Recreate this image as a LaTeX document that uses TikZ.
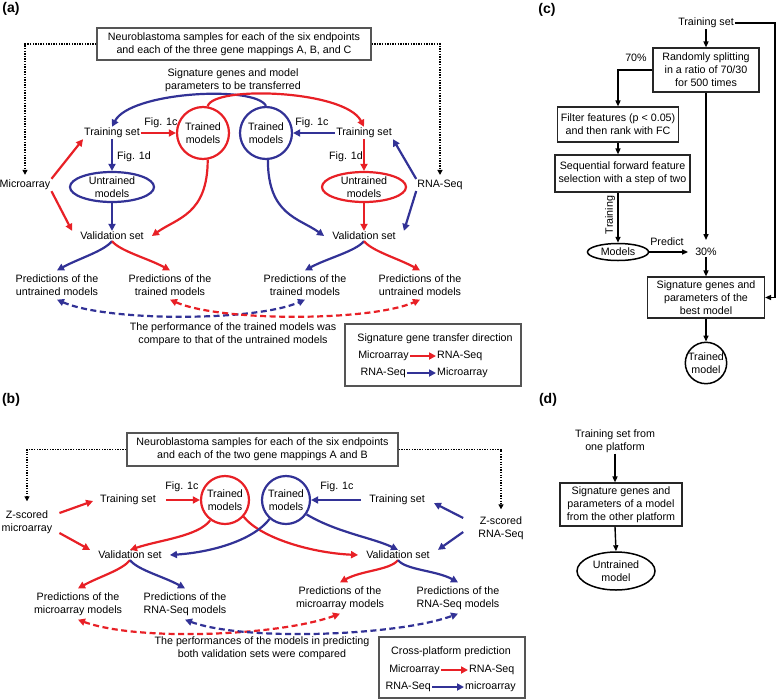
\documentclass[tikz,border=0pt]{standalone}
\usepackage{fontspec}
\setmainfont{Liberation Sans}
\usetikzlibrary{arrows.meta}
\usetikzlibrary{shapes.geometric}

\definecolor{myred}{RGB}{232,32,38}
\definecolor{myblue}{RGB}{50,50,150}
\definecolor{boxgray}{RGB}{85,85,85}

\tikzset{
  txt/.style={align=center, inner sep=1pt, font=\fontsize{10.7}{13}\selectfont},
  pred/.style={txt, inner sep=4pt},
  valset/.style={txt, inner xsep=8pt},
  paneltag/.style={inner sep=0pt, font=\fontsize{14}{16}\selectfont\bfseries},
  srcbox/.style={txt, draw=boxgray, line width=1.3pt, inner sep=0pt},
  legbox/.style={draw=boxgray, line width=1.3pt, inner sep=0pt},
  flowbox/.style={txt, draw=black!85, line width=1.1pt, inner sep=0pt},
  redcirc/.style={txt, circle, draw=myred, line width=2.2pt, inner sep=0pt},
  bluecirc/.style={txt, circle, draw=myblue, line width=2.2pt, inner sep=0pt},
  redell/.style={txt, ellipse, draw=myred, line width=2.2pt, inner sep=0pt},
  blueell/.style={txt, ellipse, draw=myblue, line width=2.2pt, inner sep=0pt},
  blackell/.style={txt, ellipse, draw=black, line width=1.5pt, inner sep=0pt},
  blackcirc/.style={txt, circle, draw=black, line width=1.5pt, inner sep=0pt},
  redarr/.style={myred, line width=2.2pt, ->},
  bluearr/.style={myblue, line width=2.2pt, ->},
  reddash/.style={myred, line width=2.2pt, dash pattern=on 6pt off 3.5pt, <->},
  bluedash/.style={myblue, line width=2.2pt, dash pattern=on 6pt off 3.5pt, <->},
  dotarr/.style={line width=1.8pt, dash pattern=on 1.3pt off 1.3pt, -{Triangle[length=5pt,width=5pt]}},
  flowarr/.style={line width=1.4pt, -{Triangle[length=6pt,width=5pt]}},
}

\begin{document}
\begin{tikzpicture}[x=1pt, y=-1pt, >={Triangle[length=7pt,width=7pt]}]
\useasboundingbox (0,0) rectangle (779,699);

% (a)
\node[paneltag] (tagA) at (11,9) {(a)};
\node[srcbox, minimum width=274pt, minimum height=32pt] (srcA) at (234,44) {Neuroblastoma samples for each of the six endpoints\\and each of the three gene mappings A, B, and C};
\node[txt] (arrayA) at (25,185) {Microarray};
\node[txt] (seqA) at (440,185) {RNA-Seq};
\node[txt] (sigA) at (233,80) {Signature genes and model\\parameters to be transferred};
\node[txt] (trainA1) at (112,133) {Training set};
\node[txt] (trainA2) at (364,133) {Training set};
\node[redcirc, minimum size=52pt] (trainedA1) at (203,133) {Trained\\models};
\node[bluecirc, minimum size=52pt] (trainedA2) at (266,133) {Trained\\models};
\node[blueell, minimum width=84pt, minimum height=30pt] (untrA1) at (112,187) {Untrained\\models};
\node[redell, minimum width=84pt, minimum height=30pt] (untrA2) at (364,187) {Untrained\\models};
\node[txt] (figA1) at (161,123) {Fig. 1c};
\node[txt] (figA2) at (312,123) {Fig. 1c};
\node[txt] (figA3) at (134,157) {Fig. 1d};
\node[txt] (figA4) at (346,157) {Fig. 1d};
\node[valset] (valA1) at (112,236) {Validation set};
\node[valset] (valA2) at (364,236) {Validation set};
\node[pred] (predA1) at (57,285) {Predictions of the\\untrained models};
\node[pred] (predA2) at (170,285) {Predictions of the\\trained models};
\node[pred] (predA3) at (305,285) {Predictions of the\\trained models};
\node[pred] (predA4) at (420,285) {Predictions of the\\untrained models};
\node[txt] (compA) at (233,334) {The performance of the trained models was\\compare to that of the untrained models};
\node[legbox, minimum width=176pt, minimum height=62pt] (legA) at (433,355) {};
\node[txt] (legA0) at (435,339) {Signature gene transfer direction};
\node[txt, anchor=east] (legA1) at (410,356) {Microarray};
\node[txt, anchor=west] (legA2) at (436,356) {RNA-Seq};
\node[txt, anchor=east] (legA3) at (407,373) {RNA-Seq};
\node[txt, anchor=west] (legA4) at (436,373) {Microarray};

\draw[dotarr, shorten >=4pt] (srcA.west) -| (arrayA.north);
\draw[dotarr, shorten >=4pt] (srcA.east) -| (seqA.north);
\draw[redarr] (trainA1) -- (trainedA1);
\draw[bluearr] (trainA2) -- (trainedA2);
\draw[bluearr] (trainA1) -- (untrA1);
\draw[redarr] (trainA2) -- (untrA2);
\draw[bluearr] (untrA1) -- (valA1);
\draw[redarr] (untrA2) -- (valA2);
\draw[redarr] (arrayA.north east) -- (trainA1.south west);
\draw[redarr] (arrayA.south east) -- (valA1.north west);
\draw[bluearr] (seqA.north west) -- (trainA2.south east);
\draw[bluearr] (seqA.south west) -- (valA2.north east);
\draw[bluearr] (trainedA2.north) .. controls +(-11,-21) and +(18,-35) .. (trainA1.north);
\draw[redarr] (trainedA1.80) .. controls +(5,-21) and +(-19,-37) .. (trainA2.north);
\draw[redarr] (trainedA1.-80) .. controls +(0,55) and +(25,-18) .. (valA1.east);
\draw[bluearr] (trainedA2.-86) .. controls +(0,55) and +(-25,-18) .. (valA2.west);
\draw[bluearr] (valA1.south) .. controls +(-8,10) and +(22,-12) .. (predA1.north);
\draw[redarr] (valA1.south) .. controls +(8,10) and +(-22,-12) .. (predA2.north);
\draw[bluearr] (valA2.south) .. controls +(-8,10) and +(22,-12) .. (predA3.north);
\draw[redarr] (valA2.south) .. controls +(8,10) and +(-22,-12) .. (predA4.north);
\draw[bluedash] (predA1.south) .. controls +(50,22) and +(-50,22) .. (predA3.south);
\draw[reddash] (predA2.south) .. controls +(50,22) and +(-50,22) .. (predA4.south);
\draw[redarr] (legA1) -- (legA2);
\draw[bluearr] (legA3) -- (legA4);

% (b)
\node[paneltag] (tagB) at (11,400) {(b)};
\node[srcbox, minimum width=271pt, minimum height=33pt] (srcB) at (262.5,449.5) {Neuroblastoma samples for each of the six endpoints\\and each of the two gene mappings A and B};
\node[txt] (arrayB) at (27,522) {Z-scored\\microarray};
\node[txt] (seqB) at (501,528) {Z-scored\\RNA-Seq};
\node[txt] (trainB1) at (128,500) {Training set};
\node[txt] (trainB2) at (397,500) {Training set};
\node[redcirc, minimum size=48pt] (trainedB1) at (225,500) {Trained\\models};
\node[bluecirc, minimum size=48pt] (trainedB2) at (286,500) {Trained\\models};
\node[txt] (figB1) at (182,487) {Fig. 1c};
\node[txt] (figB2) at (337,487) {Fig. 1c};
\node[valset] (valB1) at (130,555) {Validation set};
\node[valset] (valB2) at (398,555) {Validation set};
\node[pred] (predB1) at (78,604) {Predictions of the\\microarray models};
\node[pred] (predB2) at (185,604) {Predictions of the\\RNA-Seq models};
\node[pred] (predB3) at (340,598) {Predictions of the\\microarray models};
\node[pred] (predB4) at (458,598) {Predictions of the\\RNA-Seq models};
\node[txt] (compB) at (262,648) {The performances of the models in predicting\\both validation sets were compared};
\node[legbox, minimum width=146pt, minimum height=61pt] (legB) at (452,667.5) {};
\node[txt] (legB0) at (451,652) {Cross-platform prediction};
\node[txt, anchor=east] (legB1) at (441,670) {Microarray};
\node[txt, anchor=west] (legB2) at (468,670) {RNA-Seq};
\node[txt, anchor=east] (legB3) at (432,687) {RNA-Seq};
\node[txt, anchor=west] (legB4) at (464,687) {microarray};

\draw[dotarr, shorten >=8pt] (srcB.west) -| (arrayB.north);
\draw[dotarr, shorten >=6pt] (srcB.east) -| (seqB.north);
\draw[redarr, shorten <=9pt] (trainB1) -- (trainedB1);
\draw[bluearr, shorten <=7pt] (trainB2) -- (trainedB2);
\draw[redarr] ([shift={(6,-9)}]arrayB.east) -- ([shift={(-6,1)}]trainB1.west);
\draw[redarr] ([shift={(6,11)}]arrayB.east) -- (valB1.north west);
\draw[bluearr] ([shift={(-14,-10)}]seqB.west) -- ([shift={(8,3)}]trainB2.east);
\draw[bluearr] ([shift={(-14,4)}]seqB.west) -- (valB2.north east);
\draw[redarr] (trainedB1.234) .. controls +(-12,16) and +(30,-10) .. (valB1.north);
\draw[redarr] (trainedB1.318) .. controls +(18,22) and +(-45,-2) .. (valB2.west);
\draw[bluearr] (trainedB2.229) .. controls +(-15,20) and +(45,-3) .. (valB1.east);
\draw[bluearr] (trainedB2.325) .. controls +(30,18) and +(-25,-12) .. (valB2.north);
\draw[redarr] (valB1.south) .. controls +(-8,10) and +(22,-12) .. (predB1.north);
\draw[bluearr] (valB1.south) .. controls +(8,10) and +(-22,-12) .. (predB2.north);
\draw[redarr] (valB2.south) .. controls +(-8,10) and +(22,-12) .. (predB3.north);
\draw[bluearr] (valB2.south) .. controls +(8,10) and +(-22,-12) .. (predB4.north);
\draw[reddash] (predB1.south) .. controls +(60,22) and +(-60,22) .. (predB3.south);
\draw[bluedash] (predB2.south) .. controls +(60,22) and +(-60,22) .. (predB4.south);
\draw[redarr] (legB1) -- (legB2);
\draw[bluearr] (legB3) -- (legB4);

% (c)
\node[paneltag] (tagC) at (547,10) {(c)};
\node[txt] (trainC) at (706,23) {Training set};
\node[flowbox, minimum width=106pt, minimum height=44pt] (splitC) at (706,70) {Randomly splitting\\in a ratio of 70/30\\for 500 times};
\node[txt] (pctC1) at (636,58) {70\%};
\node[flowbox, minimum width=121pt, minimum height=35pt] (filterC) at (618,124.5) {Filter features (p < 0.05)\\and then rank with FC};
\node[flowbox, minimum width=135pt, minimum height=37pt] (selectC) at (622.5,173.5) {Sequential forward feature\\selection with a step of two};
\node[blackell, minimum width=61pt, minimum height=17pt] (modelsC) at (618,252) {Models};
\node[txt] (pctC2) at (706,252) {30\%};
\node[txt] (predictC) at (667,242) {Predict};
\node[txt, rotate=90] (trainingC) at (610,215) {Training};
\node[flowbox, minimum width=117pt, minimum height=41pt] (bestC) at (706,297.5) {Signature genes and\\parameters of the\\best model};
\node[blackcirc, minimum size=38pt] (trainedC) at (706,363) {Trained\\model};
\coordinate (cornerC) at (775,23);

\draw[flowarr] (trainC) -- (splitC);
\draw[flowarr] (splitC.west) -| (filterC.north);
\draw[flowarr] (filterC.south) -- (filterC.south |- selectC.north);
\draw[flowarr] (filterC.south |- selectC.south) -- (modelsC.north);
\draw[flowarr, shorten >=6pt] (modelsC) -- (pctC2);
\draw[flowarr, shorten >=7pt] (splitC) -- (pctC2);
\draw[flowarr] (pctC2) -- (bestC);
\draw[flowarr] (trainC.east) -- (cornerC) |- (bestC.east);
\draw[flowarr] (bestC) -- (trainedC);

% (d)
\node[paneltag] (tagD) at (548,400) {(d)};
\node[txt] (trainD) at (615,441) {Training set from\\one platform};
\node[flowbox, minimum width=122pt, minimum height=43pt] (sigD) at (621,504.5) {Signature genes and\\parameters of a model\\from the other platform};
\node[blackell, minimum width=78pt, minimum height=38pt] (untrD) at (616,571) {Untrained\\model};

\draw[flowarr] (trainD.south) -- (trainD.south |- sigD.north);
\draw[flowarr] (trainD.south |- sigD.south) -- (untrD.north);
\end{tikzpicture}
\end{document}
